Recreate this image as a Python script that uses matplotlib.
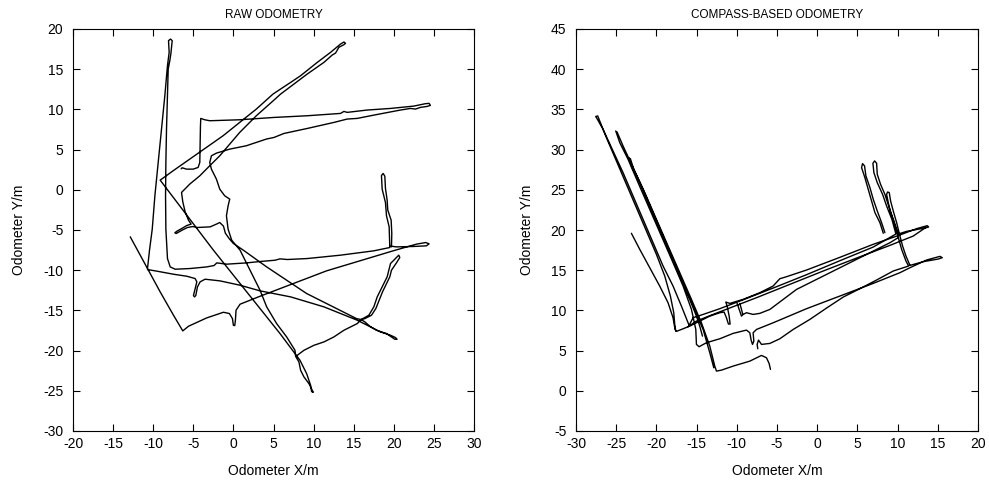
import numpy as np
import matplotlib
matplotlib.use("Agg")
import matplotlib.pyplot as plt

plt.rcParams['font.family'] = ['Liberation Sans', 'DejaVu Sans']
plt.rcParams['axes.unicode_minus'] = False

NaN = float('nan')

# ---------------- RAW ODOMETRY (left) : strokes separated by NaN ----------------
raw_x = [
 -12.86,-10.71,-9.13,-7.47,-6.31,-5.60,-3.32,-1.24,-0.50,-0.12,0.0,0.17,0.25,0.33,0.83,3.32,7.47,11.62,15.77,19.92,22.82,23.98,24.40,24.07,22.41,20.33,19.63, NaN,
 19.71,19.75,19.67,19.25,19.17,18.96,18.88,18.67,18.46,18.55,18.96,19.09,19.42,19.50, NaN,
 19.50,17.51,13.36,9.21,6.72,5.81,5.19,3.32,1.66,-0.83,-2.07,-2.41,-3.32,-5.39,-7.26,-7.88,-8.22,-8.42,-8.46,-8.42,-8.34,-8.22,-8.13,-7.93,-7.80,-7.63,-7.84,-8.09,-8.01,-8.22,-8.55,-8.96,-9.38,-9.79,-10.12,-10.46,-10.71, NaN,
 -10.71,-9.54,-7.47,-5.81,-4.77,-4.56,-4.81,-4.98,-4.85,-4.69,-4.48,-4.15,-3.53,-1.66,0.83,3.32,7.14,9.21,11.29,13.36,15.44,17.10,18.34,19.59,20.21,20.41,20.12,19.09,17.84,17.01,16.39,15.93, NaN,
 15.93,16.89,17.51,17.93,18.34,18.76,19.17,19.38,19.59,20.21,20.62,20.75,20.33,19.71,19.50,19.00,18.59,18.17,17.76,17.22,16.39,15.93, NaN,
 15.93,15.44,14.61,13.78,12.53,11.29,10.04,8.80,7.97,7.76,8.17,8.38,8.80,9.42,9.83,9.96,9.75,9.63,9.13,8.30,7.05,5.81,4.15,0.83,-2.49,-5.81,-9.13,
 -7.51,-5.44,-3.36,-1.29,0.79,2.86,4.94,5.89,7.14,8.38,10.46,12.12,13.36,13.78,13.98,13.78,13.15,12.74,12.32,11.29,9.21,7.55,5.89,5.06,2.86,0.79,-0.46,-1.70,-2.95,-4.19,-5.44,-6.47,
 -6.31,-6.02,-5.60,-5.27,-5.81,-6.43,-7.05,-7.30,-7.14,-6.39,-5.73,-5.06,-4.56,-2.90,-2.12,-1.70,-1.24,-1.00,-0.50,0.0,1.24,4.15,6.64,9.13,12.45,15.35,15.93, NaN,
 7.76,7.68,6.64,5.39,4.15,3.32,2.49,1.66,0.83,-0.21,-0.66,-0.87,-0.66,-0.46,-1.08,-1.70,-2.12,-2.74,-2.95,-2.74,
 -2.12,-0.46,1.62,4.11,5.06,6.31,9.21,12.53,14.19,15.44,17.51,20.83,22.07,22.70,23.32,24.15,24.56,24.40,23.94,22.49,19.59,16.68,14.19,13.78,13.36,9.21,5.06,0.79,-2.95,-3.57,-4.07,
 -4.11,-4.15,-4.19,-4.40,-5.02,-5.85,-6.39,-6.51,
]
raw_y = [
 -5.85,-9.79,-12.70,-15.60,-17.55,-16.97,-15.93,-15.23,-15.39,-16.02,-16.85,-16.89,-16.22,-14.98,-14.23,-13.24,-11.66,-10.08,-8.84,-7.59,-6.76,-6.56,-6.72,-6.97,-7.05,-7.10,-7.01, NaN,
 -7.10,-5.44,-3.78,-2.53,-1.29,0.17,1.70,2.03,1.78,0.08,-1.58,-3.24,-4.61,-7.10, NaN,
 -7.18,-7.59,-8.13,-8.55,-8.67,-8.59,-8.76,-8.92,-9.09,-9.25,-9.09,-9.42,-9.59,-9.79,-9.88,-9.59,-8.55,-4.90,-0.75,3.40,7.55,11.70,15.02,16.06,16.89,18.55,18.75,18.55,17.10,15.44,11.70,7.55,3.40,-0.75,-4.90,-7.51,-9.79, NaN,
 -9.92,-10.12,-10.50,-10.75,-11.04,-11.45,-12.49,-13.15,-13.32,-13.15,-12.07,-11.45,-11.12,-11.33,-11.87,-12.57,-13.32,-13.94,-14.56,-15.39,-16.22,-17.05,-17.68,-18.09,-18.38,-18.59,-18.59,-17.88,-17.47,-16.97,-16.43,-16.14, NaN,
 -16.14,-15.60,-14.56,-13.32,-12.49,-11.66,-10.83,-10.00,-9.17,-8.55,-8.13,-8.42,-9.09,-10.00,-10.83,-11.87,-12.70,-13.73,-14.77,-15.60,-16.02,-16.14, NaN,
 -16.14,-16.64,-17.05,-17.47,-18.30,-18.92,-19.34,-19.96,-20.58,-20.71,-21.41,-22.45,-23.28,-24.11,-24.94,-25.19,-25.10,-24.32,-22.86,-21.20,-19.54,-17.88,-15.81,-11.66,-7.51,-3.15,1.20,
 2.37,3.82,5.27,6.72,8.38,10.04,11.91,12.53,13.36,14.19,15.85,17.10,18.13,18.38,18.22,18.05,17.72,17.01,16.76,15.85,14.40,13.15,11.91,11.16,9.21,7.14,5.68,4.23,2.99,1.74,0.71,-0.33,
 -1.49,-2.74,-3.78,-4.27,-4.44,-4.81,-5.15,-5.35,-5.44,-5.02,-4.69,-4.57,-4.69,-4.61,-4.27,-4.07,-4.52,-5.40,-6.10,-6.68,-7.51,-9.59,-11.24,-12.90,-14.56,-16.02,-16.14, NaN,
 -20.71,-19.96,-18.30,-16.64,-14.56,-12.49,-10.83,-9.17,-7.51,-6.27,-4.90,-3.24,-1.99,-1.16,-0.75,0.08,1.33,2.57,3.40,4.23,
 4.56,5.06,5.48,6.31,6.51,7.01,7.63,8.38,8.80,8.88,9.29,9.92,10.12,10.04,10.25,10.37,10.50,10.75,10.71,10.41,10.12,9.92,9.63,9.75,9.50,9.21,9.00,8.71,8.59,8.71,8.88,
 7.84,5.48,3.40,2.78,2.57,2.57,2.74,2.61,
]

# ---------------- COMPASS-BASED ODOMETRY (right) ----------------
comp_x = [
 -23.11,-22.07,-20.83,-19.59,-18.55,-17.93,-17.68,-17.51,-16.89,-15.85,-14.61,-13.36,-12.12,-11.58,-11.29,-11.04,-10.83,-10.95,-11.20,-11.37,
 -10.87,-9.21,-7.14,-5.48,-4.65,-3.82,-1.33,2.82,6.97,10.29,12.37,13.69,13.86,13.40,11.12,10.08,
 9.54,8.96,8.42,7.88,7.47,7.39,7.14,6.93,7.05,7.47,8.13,8.63,9.29,9.79,
 6.97,2.82,-1.33,-5.48,-9.63,-12.12,-14.19,-15.44,-15.93,
 -16.89,-17.93,-19.17,-20.41,-21.66,-22.90,-24.15,-25.39,-26.64,-27.39,-27.55,-27.30,-27.05,-26.22,-24.98,-23.73,-22.49,-21.24,-20.00,-18.96,-18.26,-17.84,-17.72,-17.59, NaN,
 -25.06,-24.56,-23.53,-22.28,-20.83,-19.38,-17.93,-16.68,-15.64,-15.10,-15.02,-14.69,-13.78,-12.12,-10.46,-8.80,-8.38,-8.22,-8.05,-7.88,-7.97,-7.55,
 -5.48,-1.33,2.82,6.97,10.29,11.54,13.61,15.27,15.56,15.06,13.20,11.54, NaN,
 11.54,11.04,10.62,10.29,9.88,9.46,9.13,8.96,8.76,8.63,8.84,9.13,9.63,10.04,10.50,11.04,11.37,
 9.46,7.39,5.31,3.24,1.16,-0.91,-2.99,-4.65,-5.89,-6.93,-7.30,-7.47,-7.39, NaN,
 -24.90,-24.15,-22.90,-21.45,-20.00,-18.55,-17.10,-15.64,-14.40,-13.36,-12.74,-12.53,-11.91,-10.46,-8.38,-6.93,-6.31,-5.98,-5.81, NaN,
 -23.40,-23.11,-22.07,-20.83,-19.59,-18.34,-17.10,-15.85,-15.02,-14.61,-14.27, NaN,
 -23.24,-22.82,-21.66,-20.41,-19.17,-17.93,-16.68,-15.44,-14.19,-13.36,-12.86, NaN,
 -9.96,-9.71,-9.42,-9.25,-9.46,-9.63, NaN,
 -9.21,-8.80,-7.97,-7.14,-5.89,-4.23,-2.57,-0.91,0.75,2.41,4.07,5.73,7.39,9.05,10.08, NaN,
 -16.06,-15.02,-12.95,-10.46,-7.55,-3.40,0.75,4.90,9.05,11.95,13.53, NaN,
 8.22,7.80,7.18,6.76,6.35,5.93,5.52,5.64,5.89,6.06,6.56,6.97,7.47,8.01,8.42,
]
comp_y = [
 19.59,17.59,15.31,13.03,10.95,9.09,7.63,7.39,7.63,8.05,8.67,9.29,9.71,9.79,9.09,8.30,8.30,9.29,10.54,11.04,
 10.87,11.37,12.20,13.03,13.94,14.19,15.02,16.60,18.22,19.38,20.17,20.54,20.37,20.25,19.83,19.50,
 21.12,22.78,24.44,25.68,26.93,28.30,28.59,28.30,27.14,25.89,24.44,22.99,21.33,19.50,
 17.88,16.18,14.44,12.78,11.16,10.21,9.50,9.09,8.13,
 10.54,13.03,15.52,18.42,21.33,24.23,27.14,29.83,32.53,33.86,34.11,34.19,33.57,31.49,28.59,25.68,22.78,19.88,16.97,14.27,11.78,9.71,8.26,7.43, NaN,
 32.32,30.87,28.80,25.89,22.57,19.25,15.93,13.03,10.12,7.63,5.77,5.48,5.98,6.47,7.14,7.55,7.22,6.31,5.77,6.18,7.22,7.63,
 8.46,10.21,11.78,13.36,14.69,15.31,16.27,16.72,16.56,16.39,16.06,15.60, NaN,
 15.60,16.76,18.01,19.25,20.91,22.37,23.61,24.65,24.73,24.44,23.40,22.16,20.71,19.25,17.59,16.14,15.52,
 14.90,13.78,12.70,11.66,10.29,8.88,7.63,6.47,5.89,5.77,6.31,5.77,5.23, NaN,
 32.20,30.46,27.76,24.65,21.33,18.01,14.69,11.37,8.46,5.56,3.07,2.45,2.57,3.07,3.69,4.40,4.11,3.40,2.66, NaN,
 29.00,27.97,25.89,22.99,20.08,17.18,14.27,11.37,9.29,8.05,6.80, NaN,
 28.88,27.55,25.06,22.16,19.25,16.35,13.44,10.54,7.63,4.73,2.86, NaN,
 10.87,10.12,9.29,9.46,10.29,10.87, NaN,
 9.50,9.71,9.50,9.63,10.12,11.37,12.61,13.44,14.27,15.10,15.93,16.76,17.59,18.42,19.05, NaN,
 7.97,8.67,9.50,10.46,11.58,13.24,14.90,16.51,18.09,19.25,20.33, NaN,
 19.59,20.91,22.16,23.61,25.06,26.51,27.76,28.26,27.97,26.72,25.27,23.82,22.37,20.91,19.67,
]

titles = ["RAW ODOMETRY", "COMPASS-BASED ODOMETRY"]
xlims = [(-20, 30), (-30, 20)]
ylims = [(-30, 20), (-5, 45)]
x_label = "Odometer X/m"
y_label = "Odometer Y/m"

fig = plt.figure(figsize=(9.89, 4.87), dpi=100)
ax1 = fig.add_axes([73/989, 56/487, 401/989, 402/487])
ax2 = fig.add_axes([576/989, 56/487, 402/989, 402/487])

for ax, xs, ys, title, xl, yl in [(ax1, raw_x, raw_y, titles[0], xlims[0], ylims[0]),
                                   (ax2, comp_x, comp_y, titles[1], xlims[1], ylims[1])]:
    ax.plot(xs, ys, color='black', lw=1.0, solid_joinstyle='round', solid_capstyle='round')
    ax.set_xlim(*xl)
    ax.set_ylim(*yl)
    ax.set_xticks(np.arange(xl[0], xl[1] + 1, 5))
    ax.set_yticks(np.arange(yl[0], yl[1] + 1, 5))
    ax.tick_params(direction='in', length=5, width=0.8, top=True, right=True,
                   labelsize=10, colors='black')
    ax.tick_params(axis='x', pad=4)
    ax.tick_params(axis='y', pad=7)
    for s in ax.spines.values():
        s.set_linewidth(0.8)
    ax.set_title(title, fontsize=8.5, pad=8)
    ax.set_xlabel(x_label, fontsize=10, labelpad=10)
    ax.set_ylabel(y_label, fontsize=10, labelpad=12)

fig.savefig("out.png", dpi=100)
